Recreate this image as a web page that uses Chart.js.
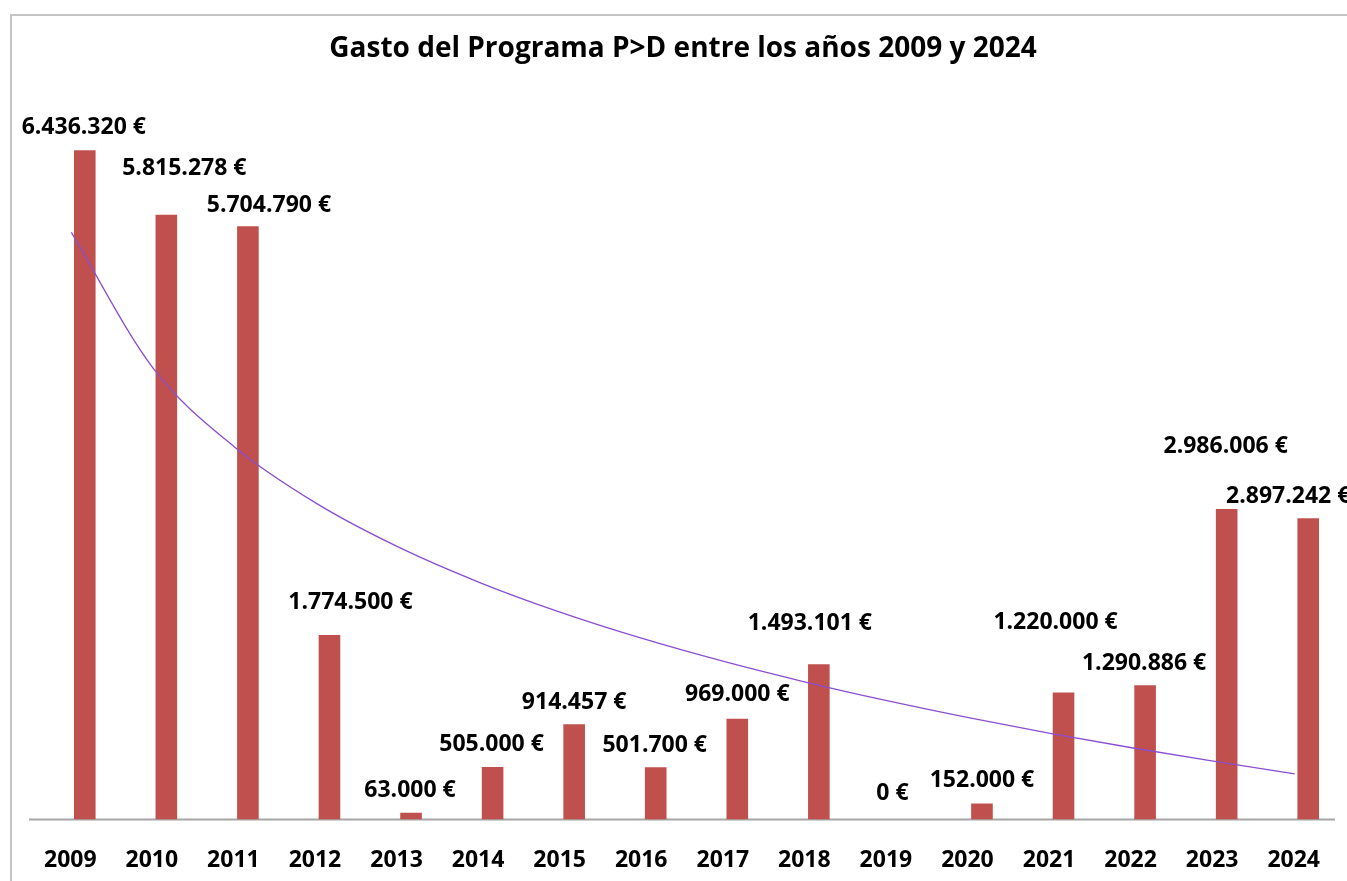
<!DOCTYPE html>
<html lang="es">
<head>
<meta charset="utf-8">
<title>Gasto del Programa P>D</title>
<script src="https://cdn.jsdelivr.net/npm/chart.js@4.4.1/dist/chart.umd.min.js"></script>
<style>
  html, body { margin: 0; padding: 0; background: #fff; overflow: hidden; }
  #frame { position: absolute; left: 10px; top: 14px; width: 2000px; height: 2000px;
           border-left: 2px solid #c4c4c4; border-top: 2px solid #c4c4c4; }
  #wrap { position: absolute; left: 0; top: 0; width: 1362px; height: 901px; }
</style>
</head>
<body>
<div id="frame"></div>
<div id="wrap"><canvas id="chartGasto"></canvas></div>
<script>
// datos
const years = ['2009','2010','2011','2012','2013','2014','2015','2016','2017','2018','2019','2020','2021','2022','2023','2024'];
const gasto = [6436320, 5815278, 5704790, 1774500, 63000, 505000, 914457, 501700, 969000, 1493101, 0, 152000, 1220000, 1290886, 2986006, 2897242];

// posicion manual de las etiquetas [dx, altura sobre la barra]
const labelShift = [[-1,23],[18,46],[21,21],[21,32],[-1,22],[-1,22],[0,22],[-1,22],[0,24],[-9,41],[-8,26],[0,23],[-8,70],[-1,22],[-1,62],[-20,22]];

const fmt = v => v.toLocaleString('de-DE') + ' €';

// linea de tendencia logaritmica (minimos cuadrados sobre ln(x))
const lx = gasto.map((_, i) => Math.log(i + 1));
const mx = lx.reduce((a, b) => a + b, 0) / lx.length;
const my = gasto.reduce((a, b) => a + b, 0) / gasto.length;
let sxy = 0, sxx = 0;
lx.forEach((x, i) => { sxy += (x - mx) * (gasto[i] - my); sxx += (x - mx) * (x - mx); });
const slope = sxy / sxx;
const icpt = my - slope * mx;
const trend = lx.map((x, i) => ({ x: i + 1, y: icpt + slope * x }));

const FONT = "'Open Sans', sans-serif";

const labelsPlugin = {
  id: 'etiquetas',
  beforeDatasetsDraw(chart) {
    const ctx = chart.ctx, area = chart.chartArea;
    const y0 = chart.scales.y.getPixelForValue(0);
    ctx.save();
    ctx.strokeStyle = '#a6a6a6';
    ctx.lineWidth = 2;
    ctx.beginPath();
    ctx.moveTo(area.left - 15, y0);
    ctx.lineTo(area.right - 14, y0);
    ctx.stroke();
    ctx.restore();
  },
  afterDatasetsDraw(chart) {
    const ctx = chart.ctx;
    const meta = chart.getDatasetMeta(1);
    ctx.save();
    ctx.font = 'bold 23px ' + FONT;
    ctx.fillStyle = '#000';
    ctx.textAlign = 'center';
    ctx.textBaseline = 'middle';
    meta.data.forEach((bar, i) => {
      const s = labelShift[i];
      ctx.fillText(fmt(gasto[i]), bar.x + s[0], bar.y - s[1]);
    });
    ctx.restore();
  }
};

const ctx = document.getElementById('chartGasto').getContext('2d');
new Chart(ctx, {
  data: {
    labels: years,
    datasets: [
      {
        type: 'line',
        label: 'Tendencia',
        data: trend,
        xAxisID: 'xt',
        borderColor: '#8a4fd0',
        borderWidth: 1.3,
        pointRadius: 0,
        cubicInterpolationMode: 'monotone',
        order: 0
      },
      {
        type: 'bar',
        label: 'Gasto',
        data: gasto,
        xAxisID: 'x',
        backgroundColor: '#c0504d',
        borderWidth: 0,
        grouped: false,
        categoryPercentage: 1,
        barPercentage: 0.265,
        order: 1
      }
    ]
  },
  options: {
    responsive: true,
    maintainAspectRatio: false,
    animation: false,
    layout: { padding: { left: 17, right: 13, top: 0, bottom: 0 } },
    plugins: {
      legend: { display: false },
      tooltip: { enabled: false },
      title: {
        display: true,
        text: 'Gasto del Programa P>D entre los años 2009 y 2024',
        color: '#000',
        font: { family: FONT, size: 28, weight: 'bold' },
        padding: { top: 32, bottom: 26 }
      }
    },
    scales: {
      x: {
        grid: { display: false, drawTicks: false },
        border: { display: false },
        ticks: { color: '#000', padding: 27, labelOffset: -14.5, font: { family: FONT, size: 23, weight: 'bold' } }
      },
      xt: {
        type: 'linear',
        display: false,
        min: 0.665,
        max: 16.665
      },
      y: {
        min: 0,
        max: 7000000,
        grid: { display: false },
        border: { display: false },
        ticks: { display: false },
        afterFit: s => { s.width = 27; }
      }
    }
  },
  plugins: [labelsPlugin]
});
</script>
</body>
</html>
